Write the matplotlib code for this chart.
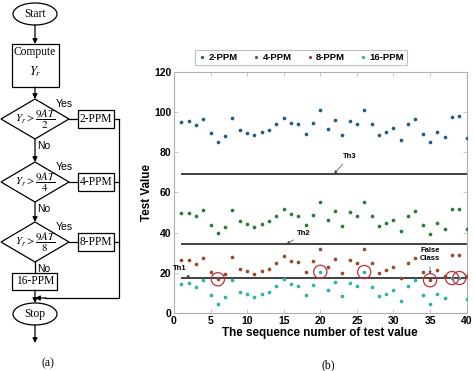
import matplotlib

matplotlib.use("Agg")
import matplotlib.pyplot as plt
from matplotlib.patches import Ellipse, Polygon, Rectangle
import numpy as np

plt.rcParams["font.family"] = ["Liberation Sans", "DejaVu Sans"]
plt.rcParams["mathtext.fontset"] = "stix"

# --- data (b) ---
seq = np.arange(1, 41)
ppm2 = [95.2, 95.5, 93.7, 96.7, 89.7, 85.3, 88.3, 96.8, 91.2, 89.8,
        88.5, 90.0, 91.2, 94.2, 97.2, 94.7, 94.2, 89.3, 94.5, 101.0,
        91.5, 96.0, 88.8, 95.5, 94.0, 100.8, 94.0, 88.8, 90.2, 92.0,
        86.3, 94.0, 96.5, 89.3, 85.0, 90.2, 87.7, 97.7, 97.8, 87.0]
ppm4 = [49.6, 49.9, 48.1, 51.1, 44.0, 39.8, 42.8, 51.1, 45.6, 44.3,
        43.0, 44.3, 45.6, 48.4, 51.6, 49.1, 48.4, 43.8, 48.7, 55.4,
        46.1, 50.7, 43.3, 50.1, 48.3, 55.4, 48.1, 43.5, 44.6, 46.4,
        41.0, 48.1, 50.9, 43.6, 39.3, 44.6, 42.0, 52.0, 52.0, 41.6]
ppm8 = [26.2, 26.5, 24.5, 27.5, 20.5, 16.8, 19.4, 27.9, 22.0, 20.9,
        19.4, 21.0, 22.0, 25.0, 28.2, 25.9, 25.2, 20.2, 25.7, 31.8,
        22.7, 27.0, 19.9, 26.5, 24.9, 31.8, 24.7, 20.0, 21.2, 23.0,
        17.6, 24.7, 27.5, 20.2, 16.3, 21.4, 18.6, 28.7, 28.7, 18.4]
ppm16 = [14.6, 14.8, 13.1, 16.4, 9.0, 4.6, 7.8, 16.4, 10.6, 9.3,
         8.0, 9.3, 10.6, 13.6, 16.8, 14.3, 13.6, 8.8, 13.9, 20.5,
         11.3, 15.4, 8.5, 15.1, 13.4, 20.4, 13.1, 8.6, 9.6, 11.6,
         6.0, 13.4, 16.3, 8.8, 4.5, 9.5, 7.3, 17.4, 17.4, 6.8]
series_names = ["2-PPM", "4-PPM", "8-PPM", "16-PPM"]
series_colors = ["#1f5f86", "#2a7a3a", "#9a4a25", "#2bb3aa"]
thresholds = {"Th1": 17.2, "Th2": 34.4, "Th3": 69.2}
# misclassified points (sequence number, value)
wrong_x = [6, 20, 26, 35, 38, 39]
wrong_y = [16.8, 20.5, 20.4, 16.3, 17.4, 17.4]

fig = plt.figure(figsize=(4.74, 3.71), dpi=100)

# --- (a) flowchart, drawn in pixel coordinates ---
fa = fig.add_axes([0, 0, 1, 1])
fa.set_xlim(0, 474)
fa.set_ylim(371, 0)
fa.axis("off")
serif = ["Liberation Serif", "DejaVu Serif"]
lw = 0.9
cx = 35


def arrow(y0, y1, x=cx):
    fa.annotate("", xy=(x, y1), xytext=(x, y0),
                arrowprops=dict(arrowstyle="-|>", color="black", lw=lw,
                                mutation_scale=7, shrinkA=0, shrinkB=0))


fa.add_patch(Ellipse((cx, 14), 44, 22, fill=False, lw=lw))
fa.text(cx, 14, "Start", ha="center", va="center", family=serif, fontsize=8.3)
arrow(25, 44)
fa.add_patch(Rectangle((12, 44), 47, 43, fill=False, lw=lw))
fa.text(cx, 52, "Compute", ha="center", va="center", family=serif, fontsize=8.3)
fa.text(cx, 72, r"$Y_r$", ha="center", va="center", fontsize=9)
arrow(87, 99)

diamonds = [(119, "2", "2-PPM"), (182, "4", "4-PPM"), (242, "8", "8-PPM")]
for i, (cy, den, lab) in enumerate(diamonds):
    fa.add_patch(Polygon([(cx, cy - 20), (69, cy), (cx, cy + 20), (1, cy)],
                         closed=True, fill=False, lw=lw))
    fa.text(cx + 1, cy, r"$Y_r > \dfrac{9AT}{%s}$" % den, ha="center",
            va="center", fontsize=7.8)
    fa.plot([69, 78], [cy, cy], color="black", lw=lw)
    fa.add_patch(Rectangle((78, cy - 9), 36, 18, fill=False, lw=lw))
    fa.text(96, cy, lab, ha="center", va="center", family=serif, fontsize=8.3)
    fa.plot([114, 119], [cy, cy], color="black", lw=lw)
    fa.text(56, cy - 15, "Yes", ha="left", va="center", fontsize=7.5)
    fa.text(37, cy + 27, "No", ha="left", va="center", fontsize=7.5)
    if i < 2:
        arrow(cy + 20, diamonds[i + 1][0] - 20)
fa.plot([cx, cx], [262, 273], color="black", lw=lw)
fa.add_patch(Rectangle((12, 273), 45, 17, fill=False, lw=lw))
fa.text(cx, 281.5, "16-PPM", ha="center", va="center", family=serif, fontsize=8.3)
fa.plot([119, 119, 45], [119, 298, 298], color="black", lw=lw)
fa.annotate("", xy=(cx, 298), xytext=(46, 298),
            arrowprops=dict(arrowstyle="-|>", color="black", lw=lw,
                            mutation_scale=7, shrinkA=0, shrinkB=0))
arrow(290, 303)
fa.add_patch(Ellipse((cx, 314), 44, 22, fill=False, lw=lw))
fa.text(cx, 314, "Stop", ha="center", va="center", family=serif, fontsize=8.3)
arrow(325, 343)
fa.text(48, 363, "(a)", ha="center", va="center", family=serif, fontsize=8.5)
fa.text(328, 365, "(b)", ha="center", va="center", family=serif, fontsize=8.5)

# --- (b) test values ---
ax = fig.add_axes([0.367, 0.1563, 0.6175, 0.650])
for vals, name, col in zip([ppm2, ppm4, ppm8, ppm16], series_names, series_colors):
    ax.scatter(seq, vals, s=7, color=col, label=name, zorder=3, linewidths=0)
for th in thresholds.values():
    ax.hlines(th, 1, 40, color="#333333", lw=1.3, zorder=2)
ax.scatter(wrong_x, wrong_y, s=90, facecolors="none", edgecolors="#c0303a",
           linewidths=0.9, zorder=4)

ann = dict(arrowstyle="-|>", color="#444444", lw=0.5, mutation_scale=4,
           shrinkA=1, shrinkB=0)
ax.annotate("Th1", xy=(2.2, 17.4), xytext=(0.8, 22.3), fontsize=5.5,
            fontweight="bold", ha="center", va="center", arrowprops=ann)
ax.annotate("Th2", xy=(15.4, 34.4), xytext=(17.8, 39.6), fontsize=5.5,
            fontweight="bold", ha="center", va="center", arrowprops=ann)
ax.annotate("Th3", xy=(21.9, 69.4), xytext=(24.0, 77.8), fontsize=5.5,
            fontweight="bold", ha="center", va="center", arrowprops=ann)
ax.annotate("False\nClass", xy=(35, 19.3), xytext=(35, 29.0), fontsize=5.5,
            fontweight="bold", ha="center", va="center", linespacing=1.3,
            arrowprops=ann)

ax.set_xlim(0, 40)
ax.set_ylim(0, 120)
ax.set_xticks(np.arange(0, 41, 5))
ax.set_yticks(np.arange(0, 121, 20))
ax.tick_params(direction="in", top=True, right=True, length=3, width=0.5,
               color="#b0b0b0", labelsize=7.5, pad=2)
for lab in ax.get_xticklabels() + ax.get_yticklabels():
    lab.set_fontweight("bold")
for sp in ax.spines.values():
    sp.set_color("#b0b0b0")
    sp.set_linewidth(0.8)
ax.set_xlabel("The sequence number of test value", fontsize=8.4,
              fontweight="bold", labelpad=1)
ax.set_ylabel("Test Value", fontsize=8.4, fontweight="bold", labelpad=1)
leg = ax.legend(loc="lower center", bbox_to_anchor=(0.434, 1.01), ncol=4,
                prop={"weight": "bold", "size": 6.8},
                frameon=True, fancybox=False, edgecolor="#b0b0b0",
                handletextpad=0.2, columnspacing=1.4, borderpad=0.3,
                handlelength=1.0, markerscale=0.9)
leg.get_frame().set_linewidth(0.8)

fig.savefig("out.png", dpi=100)
